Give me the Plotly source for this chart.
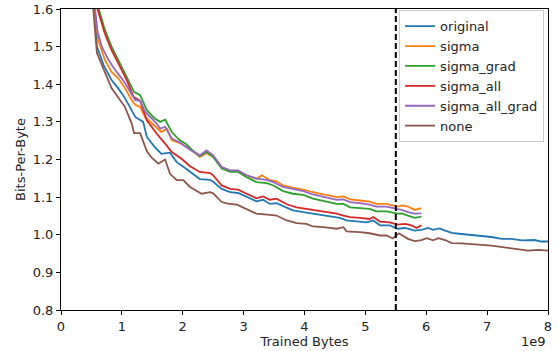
import plotly.graph_objects as go

# x in units of 1e9 trained bytes
none_x = [0.50, 0.53, 0.59, 0.72, 0.83, 0.94, 1.05, 1.16, 1.20, 1.30, 1.41, 1.49, 1.60, 1.71, 1.79, 1.90, 2.01, 2.12, 2.31, 2.45, 2.50, 2.64, 2.74, 2.89, 3.05, 3.21, 3.43, 3.54, 3.71, 3.87, 4.03, 4.14, 4.31, 4.53, 4.64, 4.69, 4.91, 5.07, 5.24, 5.35, 5.45, 5.55, 5.70, 5.81, 5.92, 6.01, 6.11, 6.20, 6.31, 6.42, 6.58, 6.74, 6.91, 7.07, 7.24, 7.40, 7.57, 7.67, 7.84, 8.00]
none_y = [1.75, 1.60, 1.483, 1.43, 1.39, 1.365, 1.34, 1.296, 1.27, 1.27, 1.222, 1.205, 1.189, 1.20, 1.162, 1.145, 1.145, 1.127, 1.109, 1.113, 1.11, 1.087, 1.083, 1.08, 1.069, 1.056, 1.053, 1.051, 1.038, 1.031, 1.029, 1.022, 1.02, 1.016, 1.02, 1.009, 1.007, 1.004, 0.998, 0.998, 0.990, 1.004, 0.989, 0.983, 0.986, 0.991, 0.985, 0.991, 0.986, 0.978, 0.977, 0.976, 0.973, 0.971, 0.967, 0.964, 0.961, 0.958, 0.960, 0.958]

orig_x = [0.50, 0.55, 0.59, 0.70, 0.83, 0.94, 1.02, 1.13, 1.22, 1.35, 1.41, 1.54, 1.65, 1.79, 1.90, 2.05, 2.12, 2.28, 2.45, 2.50, 2.64, 2.78, 2.91, 3.05, 3.21, 3.32, 3.43, 3.54, 3.68, 3.81, 3.98, 4.14, 4.31, 4.47, 4.58, 4.69, 4.86, 5.02, 5.13, 5.24, 5.40, 5.53, 5.65, 5.81, 5.92, 6.03, 6.11, 6.22, 6.31, 6.42, 6.58, 6.74, 6.91, 7.07, 7.24, 7.40, 7.57, 7.78, 7.89, 8.00]
orig_y = [1.75, 1.60, 1.50, 1.451, 1.411, 1.389, 1.371, 1.34, 1.313, 1.30, 1.26, 1.233, 1.215, 1.218, 1.193, 1.176, 1.167, 1.148, 1.146, 1.141, 1.122, 1.113, 1.111, 1.10, 1.089, 1.093, 1.082, 1.084, 1.073, 1.065, 1.06, 1.056, 1.051, 1.047, 1.045, 1.038, 1.036, 1.033, 1.038, 1.025, 1.025, 1.016, 1.018, 1.011, 1.013, 1.018, 1.013, 1.017, 1.011, 1.005, 1.002, 1.0, 0.997, 0.994, 0.989, 0.989, 0.985, 0.986, 0.982, 0.982]

sigma_x = [0.50, 0.55, 0.61, 0.72, 0.83, 0.94, 1.05, 1.16, 1.22, 1.30, 1.38, 1.54, 1.65, 1.74, 1.82, 1.98, 2.15, 2.28, 2.39, 2.50, 2.64, 2.78, 2.91, 3.05, 3.21, 3.30, 3.43, 3.54, 3.65, 3.81, 3.98, 4.14, 4.31, 4.53, 4.64, 4.75, 4.91, 5.07, 5.18, 5.35, 5.53, 5.60, 5.70, 5.81, 5.92]
sigma_y = [1.75, 1.60, 1.518, 1.465, 1.433, 1.416, 1.39, 1.358, 1.345, 1.34, 1.313, 1.289, 1.273, 1.282, 1.251, 1.242, 1.224, 1.207, 1.217, 1.207, 1.18, 1.169, 1.169, 1.158, 1.149, 1.158, 1.145, 1.142, 1.131, 1.125, 1.12, 1.113, 1.107, 1.10, 1.102, 1.094, 1.091, 1.088, 1.082, 1.082, 1.075, 1.078, 1.075, 1.066, 1.071]

sgrad_x = [0.57, 0.62, 0.72, 0.83, 0.94, 1.08, 1.20, 1.30, 1.41, 1.54, 1.63, 1.71, 1.82, 1.95, 2.05, 2.15, 2.28, 2.39, 2.50, 2.64, 2.78, 2.91, 3.05, 3.21, 3.38, 3.49, 3.65, 3.81, 3.98, 4.14, 4.31, 4.53, 4.64, 4.75, 4.91, 5.07, 5.18, 5.35, 5.53, 5.60, 5.70, 5.81, 5.92]
sgrad_y = [1.75, 1.60, 1.545, 1.50, 1.465, 1.42, 1.38, 1.371, 1.331, 1.309, 1.30, 1.306, 1.273, 1.251, 1.242, 1.226, 1.209, 1.22, 1.207, 1.176, 1.167, 1.167, 1.153, 1.14, 1.137, 1.131, 1.116, 1.109, 1.106, 1.096, 1.089, 1.082, 1.082, 1.073, 1.071, 1.069, 1.062, 1.062, 1.056, 1.057, 1.051, 1.045, 1.048]

sall_x = [0.55, 0.60, 0.72, 0.83, 0.94, 1.08, 1.19, 1.30, 1.41, 1.57, 1.71, 1.82, 1.98, 2.12, 2.28, 2.45, 2.50, 2.64, 2.78, 2.91, 3.05, 3.21, 3.32, 3.43, 3.54, 3.71, 3.87, 4.03, 4.20, 4.36, 4.53, 4.64, 4.75, 4.91, 5.07, 5.13, 5.24, 5.40, 5.53, 5.65, 5.76, 5.84, 5.92]
sall_y = [1.75, 1.60, 1.535, 1.491, 1.456, 1.411, 1.367, 1.356, 1.304, 1.269, 1.242, 1.22, 1.202, 1.182, 1.167, 1.164, 1.158, 1.131, 1.122, 1.12, 1.109, 1.097, 1.102, 1.093, 1.096, 1.081, 1.073, 1.069, 1.065, 1.06, 1.056, 1.051, 1.047, 1.045, 1.042, 1.047, 1.035, 1.033, 1.027, 1.029, 1.025, 1.018, 1.025]

sallg_x = [0.51, 0.56, 0.60, 0.67, 0.78, 0.89, 1.02, 1.16, 1.22, 1.30, 1.38, 1.57, 1.63, 1.71, 1.82, 1.95, 2.12, 2.28, 2.39, 2.50, 2.64, 2.78, 2.91, 3.05, 3.21, 3.38, 3.49, 3.65, 3.81, 3.98, 4.14, 4.31, 4.53, 4.64, 4.75, 4.91, 5.07, 5.18, 5.35, 5.53, 5.60, 5.70, 5.81, 5.92]
sallg_y = [1.75, 1.60, 1.54, 1.50, 1.465, 1.438, 1.411, 1.376, 1.358, 1.356, 1.327, 1.296, 1.282, 1.287, 1.256, 1.245, 1.226, 1.211, 1.224, 1.211, 1.18, 1.171, 1.171, 1.158, 1.149, 1.146, 1.14, 1.127, 1.121, 1.116, 1.107, 1.10, 1.093, 1.094, 1.087, 1.084, 1.08, 1.075, 1.075, 1.068, 1.066, 1.06, 1.056, 1.057]

x_ticks = [0, 1, 2, 3, 4, 5, 6, 7, 8]
x_tick_labels = ["0", "1", "2", "3", "4", "5", "6", "7", "8"]
y_ticks = [0.8, 0.9, 1.0, 1.1, 1.2, 1.3, 1.4, 1.5, 1.6]
cutoff = 5.5

series = [
    ("original", orig_x, orig_y, "#1f77b4"),
    ("sigma", sigma_x, sigma_y, "#ff7f0e"),
    ("sigma_grad", sgrad_x, sgrad_y, "#2ca02c"),
    ("sigma_all", sall_x, sall_y, "#d62728"),
    ("sigma_all_grad", sallg_x, sallg_y, "#9467bd"),
    ("none", none_x, none_y, "#8c564b"),
]

SCALE = 1e9
fig = go.Figure()
for name, xs, ys, col in series:
    fig.add_trace(go.Scatter(
        x=[v * SCALE for v in xs], y=ys, mode="lines", name=name,
        line=dict(color=col, width=1.8),
    ))

fig.add_shape(type="line", xref="x", yref="paper",
              x0=cutoff * SCALE, x1=cutoff * SCALE, y0=0, y1=1,
              line=dict(color="black", width=2, dash="6px,3px"))

font = dict(family="DejaVu Sans", size=13, color="#222222")
fig.update_layout(
    width=558, height=351,
    margin=dict(l=61, r=10, t=9, b=41, autoexpand=False),
    plot_bgcolor="white", paper_bgcolor="white",
    font=font,
    showlegend=True,
    legend=dict(x=0.992, y=0.996, xanchor="right", yanchor="top",
                bgcolor="rgba(255,255,255,0.8)", bordercolor="#cccccc",
                borderwidth=1, font=dict(family="DejaVu Sans", size=13, color="#222222"),
                tracegroupgap=0, itemwidth=30),
)
fig.update_xaxes(
    range=[0, 8 * SCALE], automargin=False,
    tickvals=[t * SCALE for t in x_ticks], ticktext=x_tick_labels,
    showgrid=False, zeroline=False, showline=True, linecolor="black",
    linewidth=1, mirror=True, ticks="outside", ticklen=4, tickcolor="black",
    title=dict(text="Trained Bytes", font=font, standoff=2),
)
fig.update_yaxes(
    range=[0.8, 1.6], tickvals=y_ticks, tickformat=".1f", automargin=False,
    showgrid=False, zeroline=False, showline=True, linecolor="black",
    linewidth=1, mirror=True, ticks="outside", ticklen=4, tickcolor="black",
    title=dict(text="Bits-Per-Byte", font=font, standoff=4),
)
fig.add_annotation(text="1e9", xref="paper", yref="paper", x=1, y=0,
                   xanchor="right", yanchor="top", yshift=-22,
                   showarrow=False, font=font)

fig.write_html("out.html")
